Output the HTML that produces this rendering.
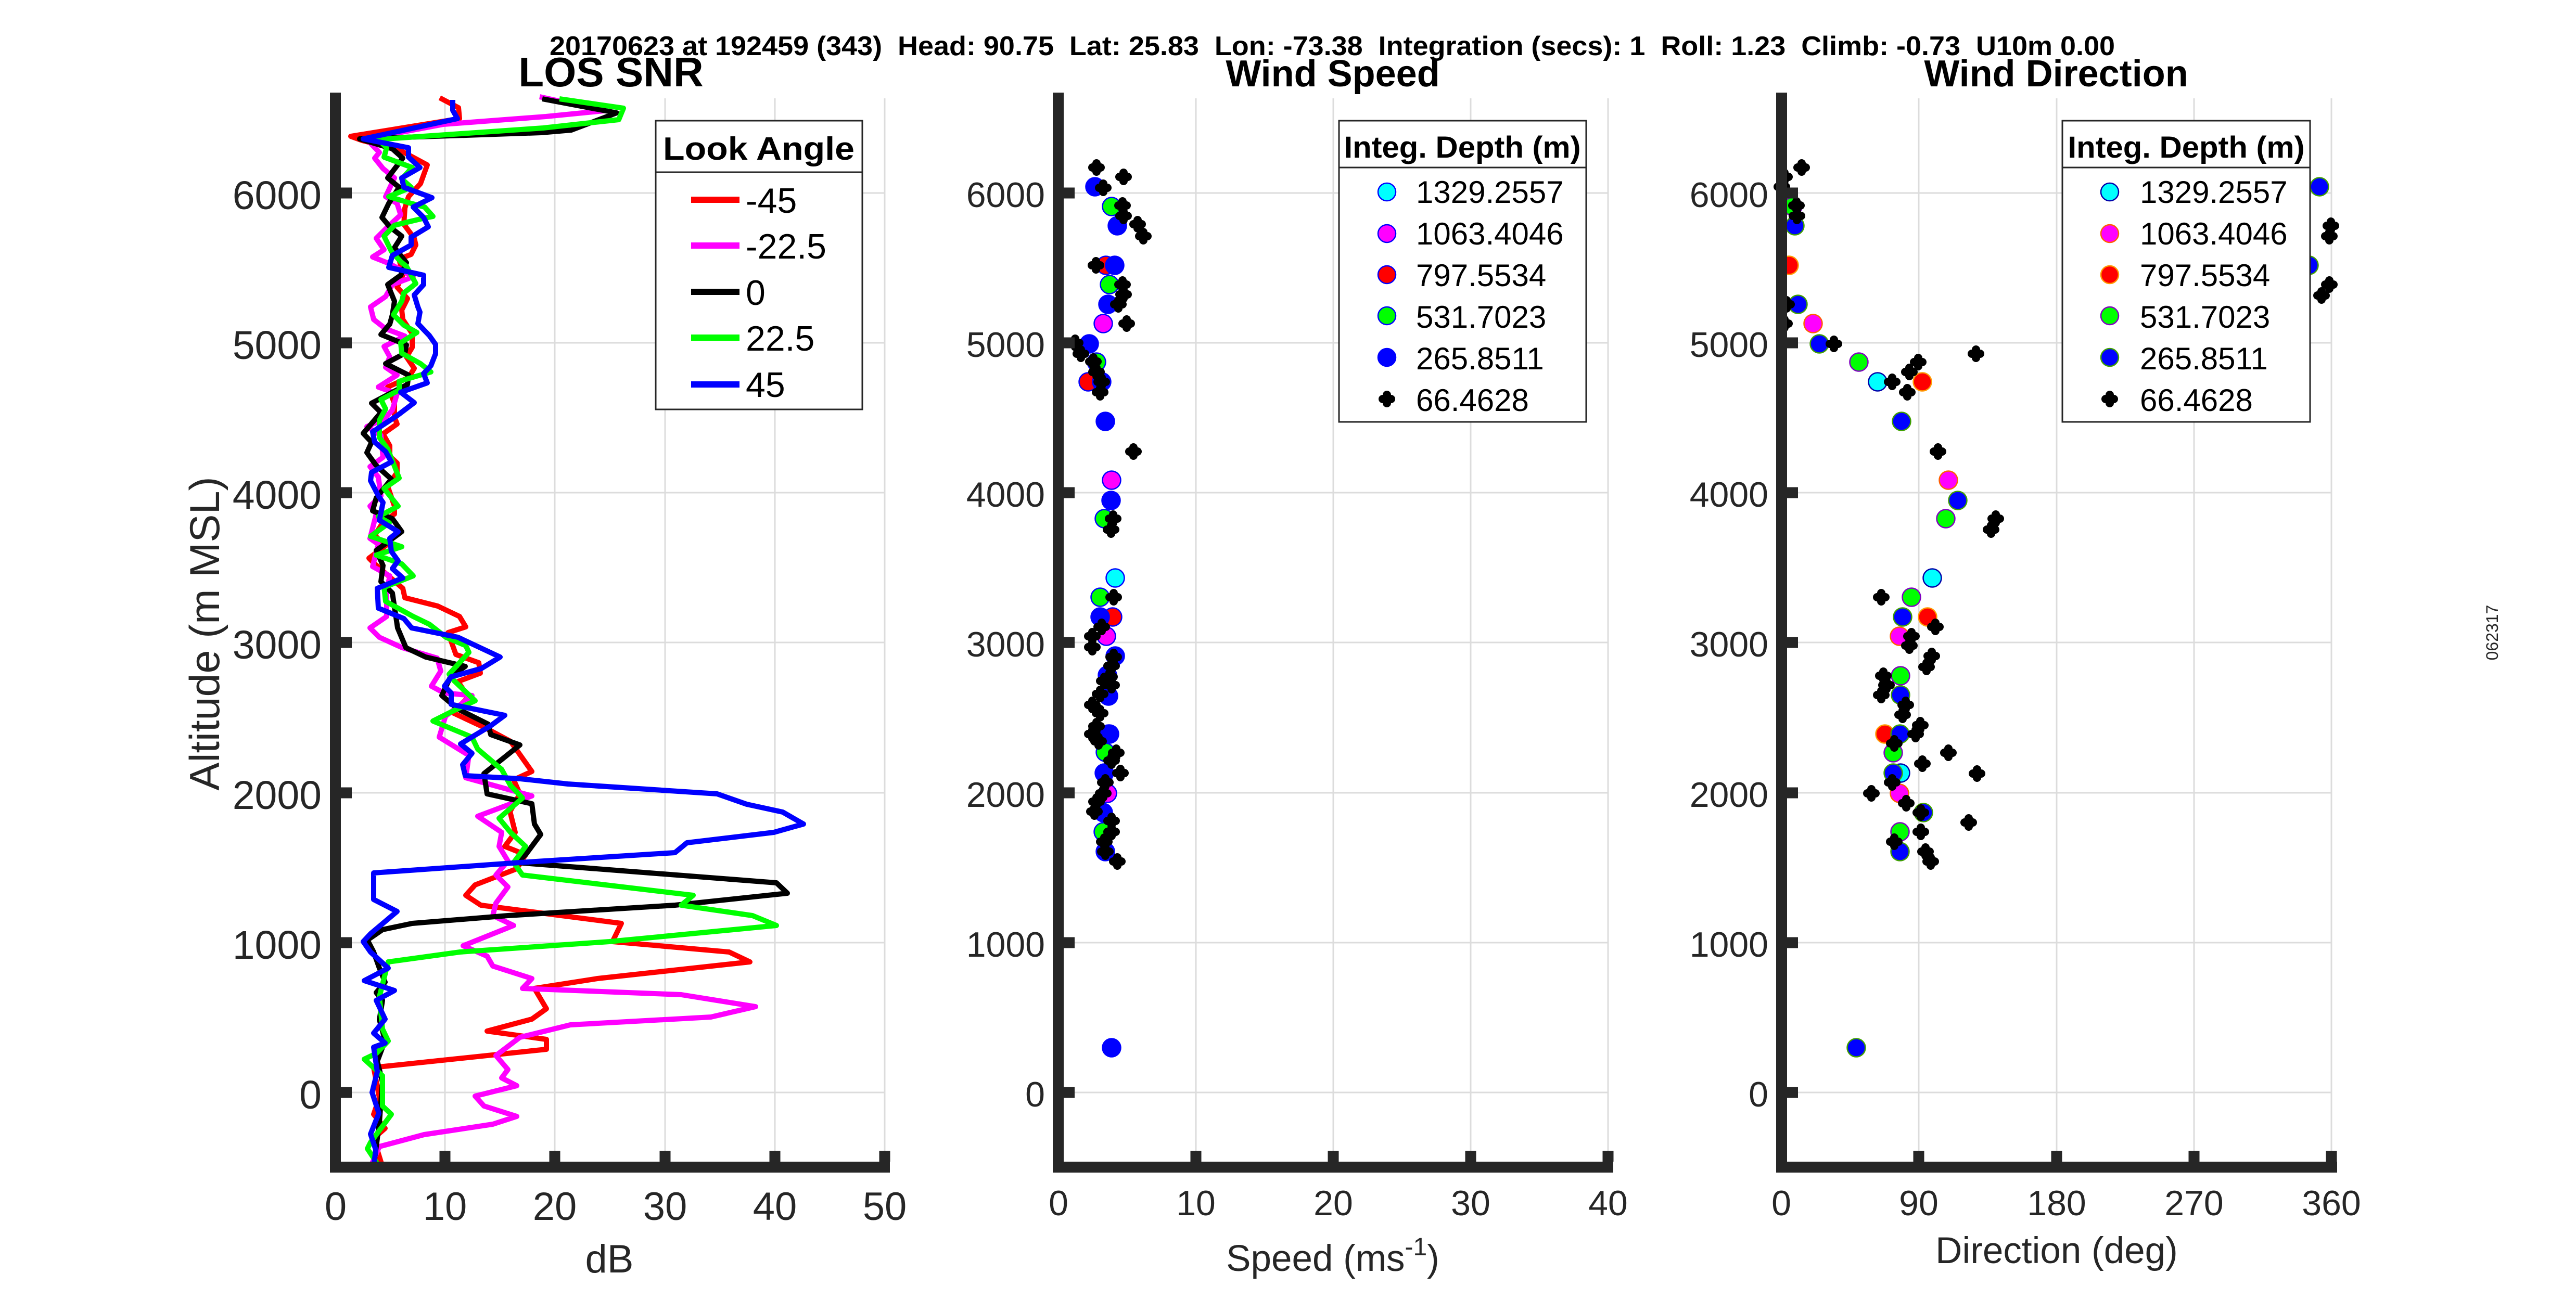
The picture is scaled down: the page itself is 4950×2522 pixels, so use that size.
<!DOCTYPE html>
<html><head><meta charset="utf-8"><style>
html,body{margin:0;padding:0;background:#fff;}
svg{display:block;}
text{font-family:"Liberation Sans",Arial,sans-serif;}
</style></head><body>
<svg xmlns="http://www.w3.org/2000/svg" width="4950" height="2522" viewBox="0 0 4950 2522">
<defs>
<path id="pl" d="M-8,0H8M0,-8V8" stroke="#000" stroke-width="16" stroke-linecap="round" fill="none"/>
</defs>
<rect width="4950" height="2522" fill="#fff"/>

<!-- ================= GRIDS ================= -->
<g stroke="#dcdcdc" stroke-width="3" fill="none">
<path d="M855,189V2233M1066,189V2233M1278,189V2233M1489,189V2233M1700,189V2233"/>
<path d="M655,371H1700M655,659H1700M655,947H1700M655,1235H1700M655,1524H1700M655,1812H1700M655,2100H1700"/>
<path d="M2298,189V2233M2562,189V2233M2826,189V2233M3090,189V2233"/>
<path d="M2044,371H3090M2044,659H3090M2044,947H3090M2044,1235H3090M2044,1524H3090M2044,1812H3090M2044,2100H3090"/>
<path d="M3687,189V2233M3952,189V2233M4216,189V2233M4480,189V2233"/>
<path d="M3434,371H4480M3434,659H4480M3434,947H4480M3434,1235H4480M3434,1524H4480M3434,1812H4480M3434,2100H4480"/>
</g>

<!-- ================= SNR LINES ================= -->
<g fill="none" stroke-width="10" stroke-linejoin="round" stroke-linecap="butt">
<polyline stroke="#ff0000" points="845,188 881,207 883,228 674,262 696,270 767,288 821,317 808,353 785,378 778,400 776,431 796,458 799,471 790,489 767,498 774,529 763,552 783,574 772,596 774,614 792,641 792,668 781,686 796,708 785,726 745,744 758,775 758,802 763,815 736,834 749,857 749,877 763,890 763,908 745,935 758,973 758,988 736,1004 720,1029 741,1049 709,1073 718,1082 743,1104 774,1131 778,1149 841,1165 883,1185 895,1205 861,1216 876,1258 920,1274 923,1294 880,1310 900,1340 870,1370 936,1401 981,1425 1022,1483 987,1499 999,1526 980,1560 990,1600 970,1627 1010,1643 993,1670 913,1701 895,1721 924,1740 1194,1775 1177,1810 1401,1830 1441,1849 1148,1881 1027,1900 1050,1939 1022,1959 936,1982 1050,1998 1050,2017 718,2052 729,2110 718,2142 740,2169 718,2188 735,2243"/>
<polyline stroke="#ff00ff" points="1037,186 1160,213 1049,224 852,239 767,255 703,266 729,293 720,304 736,324 758,342 741,378 763,391 770,413 745,436 723,458 738,480 716,494 749,507 794,532 754,547 741,570 712,590 718,614 741,632 778,646 738,666 749,686 741,706 763,721 727,744 763,757 754,788 738,806 705,820 732,837 736,879 711,897 727,917 732,953 711,973 723,988 711,1035 727,1046 716,1089 749,1107 743,1136 743,1185 711,1207 729,1225 773,1245 840,1265 847,1290 829,1319 853,1332 907,1337 856,1377 844,1417 901,1452 895,1495 1022,1530 918,1569 964,1600 959,1627 976,1655 953,1682 976,1705 953,1736 947,1760 987,1779 890,1818 936,1838 947,1857 1022,1881 1004,1900 1309,1912 1452,1935 1366,1955 1096,1970 999,1994 953,2029 976,2056 964,2072 993,2087 913,2107 930,2126 993,2146 947,2161 815,2181 729,2204 712,2243"/>
<polyline stroke="#000000" points="1042,190 1185,217 1098,250 1040,255 691,267 754,286 774,304 745,342 767,360 747,391 734,418 749,436 772,454 758,476 781,505 770,529 745,547 758,579 754,605 749,623 732,643 781,663 778,679 741,699 785,721 783,739 714,775 732,793 698,833 714,850 705,870 723,895 752,921 723,957 716,982 754,997 772,1022 745,1042 723,1058 736,1087 732,1118 754,1140 764,1207 780,1245 818,1263 894,1281 866,1300 849,1337 880,1363 938,1392 943,1412 999,1432 959,1464 930,1487 936,1526 1022,1545 1027,1584 1039,1604 1010,1643 993,1658 1492,1697 1513,1717 1297,1740 976,1760 792,1775 735,1787 706,1807 718,1830 729,1861 740,1888 723,1908 735,1923 729,1960 740,2000 725,2040 735,2080 729,2157 718,2243"/>
<polyline stroke="#00ff00" points="1075,190 1198,208 1189,230 1044,246 727,268 743,284 738,302 792,322 772,344 790,360 747,378 790,391 816,398 832,416 812,420 758,433 738,454 752,483 770,503 781,512 799,545 776,563 772,579 756,605 776,625 801,639 770,659 772,679 808,699 828,715 767,733 767,750 732,768 741,786 729,808 729,841 745,863 767,919 738,939 765,973 727,993 748,1005 712,1031 772,1051 723,1067 772,1084 794,1107 738,1129 741,1156 794,1185 825,1200 857,1225 895,1241 901,1254 863,1296 872,1308 913,1347 872,1366 832,1386 907,1417 918,1440 964,1479 981,1510 1004,1534 959,1573 981,1600 1010,1627 987,1658 1004,1682 1332,1721 1309,1740 1446,1760 1492,1779 1171,1810 884,1830 746,1849 729,1916 735,1978 746,2001 723,2025 700,2036 735,2068 735,2126 752,2142 712,2196 706,2208 729,2243"/>
<polyline stroke="#0000ff" points="870,192 870,212 879,228 698,267 785,284 785,302 807,322 772,342 776,360 830,380 794,398 814,418 823,436 790,456 790,471 754,491 747,514 814,529 814,547 796,567 803,590 807,600 803,622 825,645 837,662 837,680 828,703 814,718 821,736 770,754 796,774 763,799 716,830 720,850 741,868 752,888 714,908 712,924 727,953 736,966 729,1000 747,1011 765,1022 749,1035 752,1060 765,1078 754,1093 774,1111 725,1131 727,1169 776,1189 791,1207 880,1225 961,1263 925,1285 867,1301 854,1319 867,1332 867,1354 970,1375 943,1395 885,1430 907,1448 889,1470 894,1491 1000,1497 1091,1507 1378,1526 1435,1546 1504,1561 1544,1584 1487,1600 1320,1620 1297,1639 999,1658 718,1678 718,1729 763,1752 712,1795 698,1810 712,1830 746,1861 700,1885 758,1904 723,1923 740,1959 718,1986 740,2005 718,2013 725,2060 715,2100 728,2140 712,2180 722,2210 718,2243"/>
</g>

<!-- ================= MIDDLE SCATTER ================= -->
<g stroke-width="2.5">
<g fill="#00ffff" stroke="#0000ff"><circle cx="2143" cy="1111" r="17.5"/></g>
<g fill="#ff00ff" stroke="#0000ff"><circle cx="2120" cy="622" r="17.5"/><circle cx="2136" cy="923" r="17.5"/><circle cx="2126" cy="1223" r="17.5"/><circle cx="2128" cy="1525" r="17.5"/></g>
<g fill="#ff0000" stroke="#0000ff"><circle cx="2125" cy="510" r="17.5"/><circle cx="2091" cy="734" r="17.5"/><circle cx="2138" cy="1186" r="17.5"/><circle cx="2132" cy="1411" r="17.5"/></g>
<g fill="#00ff00" stroke="#0000ff"><circle cx="2136" cy="397" r="17.5"/><circle cx="2132" cy="547" r="17.5"/><circle cx="2107" cy="696" r="17.5"/><circle cx="2122" cy="997" r="17.5"/><circle cx="2114" cy="1148" r="17.5"/><circle cx="2124" cy="1446" r="17.5"/><circle cx="2120" cy="1599" r="17.5"/></g>
<g fill="#0000ff" stroke="#0000ff"><circle cx="2104" cy="359" r="17.5"/><circle cx="2147" cy="434" r="17.5"/><circle cx="2142" cy="510" r="17.5"/><circle cx="2129" cy="585" r="17.5"/><circle cx="2093" cy="661" r="17.5"/><circle cx="2117" cy="734" r="17.5"/><circle cx="2124" cy="810" r="17.5"/><circle cx="2135" cy="962" r="17.5"/><circle cx="2114" cy="1186" r="17.5"/><circle cx="2143" cy="1261" r="17.5"/><circle cx="2128" cy="1298" r="17.5"/><circle cx="2130" cy="1338" r="17.5"/><circle cx="2130" cy="1411" r="17.5"/><circle cx="2122" cy="1486" r="17.5"/><circle cx="2120" cy="1562" r="17.5"/><circle cx="2124" cy="1637" r="17.5"/><circle cx="2136" cy="2014" r="17.5"/></g>
</g>
<g>
<use href="#pl" x="2107" y="322"/><use href="#pl" x="2159" y="340"/><use href="#pl" x="2120" y="361"/><use href="#pl" x="2157" y="395"/><use href="#pl" x="2159" y="415"/><use href="#pl" x="2186" y="431"/><use href="#pl" x="2197" y="454"/><use href="#pl" x="2106" y="510"/><use href="#pl" x="2157" y="547"/><use href="#pl" x="2159" y="566"/><use href="#pl" x="2149" y="585"/><use href="#pl" x="2165" y="622"/><use href="#pl" x="2066" y="659"/><use href="#pl" x="2077" y="680"/><use href="#pl" x="2101" y="695"/><use href="#pl" x="2107" y="715"/><use href="#pl" x="2117" y="734"/><use href="#pl" x="2114" y="754"/><use href="#pl" x="2178" y="868"/><use href="#pl" x="2139" y="997"/><use href="#pl" x="2135" y="1018"/><use href="#pl" x="2140" y="1148"/><use href="#pl" x="2117" y="1205"/><use href="#pl" x="2099" y="1223"/><use href="#pl" x="2099" y="1244"/><use href="#pl" x="2140" y="1263"/><use href="#pl" x="2136" y="1280"/><use href="#pl" x="2132" y="1301"/><use href="#pl" x="2122" y="1309"/><use href="#pl" x="2136" y="1317"/><use href="#pl" x="2114" y="1334"/><use href="#pl" x="2099" y="1355"/><use href="#pl" x="2114" y="1371"/><use href="#pl" x="2107" y="1396"/><use href="#pl" x="2099" y="1411"/><use href="#pl" x="2111" y="1425"/><use href="#pl" x="2145" y="1447"/><use href="#pl" x="2136" y="1462"/><use href="#pl" x="2153" y="1486"/><use href="#pl" x="2124" y="1504"/><use href="#pl" x="2120" y="1525"/><use href="#pl" x="2107" y="1541"/><use href="#pl" x="2103" y="1560"/><use href="#pl" x="2136" y="1578"/><use href="#pl" x="2136" y="1599"/><use href="#pl" x="2122" y="1618"/><use href="#pl" x="2124" y="1637"/><use href="#pl" x="2147" y="1656"/>
</g>

<!-- ================= RIGHT SCATTER ================= -->
<g stroke-width="2.5">
<g fill="#00ffff" stroke="#0000aa"><circle cx="3608" cy="734" r="17.5"/><circle cx="3713" cy="1111" r="17.5"/><circle cx="3652" cy="1486" r="17.5"/></g>
<g fill="#ff00ff" stroke="#ff6000"><circle cx="3484" cy="622" r="17.5"/><circle cx="3744" cy="923" r="17.5"/><circle cx="3650" cy="1223" r="17.5"/><circle cx="3650" cy="1525" r="17.5"/></g>
<g fill="#ff0000" stroke="#ff9900"><circle cx="3438" cy="510" r="17.5"/><circle cx="3694" cy="734" r="17.5"/><circle cx="3704" cy="1186" r="17.5"/><circle cx="3622" cy="1411" r="17.5"/></g>
<g fill="#00ff00" stroke="#8000c0"><circle cx="3445" cy="397" r="17.5"/><circle cx="3572" cy="696" r="17.5"/><circle cx="3739" cy="997" r="17.5"/><circle cx="3673" cy="1148" r="17.5"/><circle cx="3652" cy="1299" r="17.5"/><circle cx="3638" cy="1447" r="17.5"/><circle cx="3651" cy="1599" r="17.5"/></g>
<g fill="#0000ff" stroke="#40a000"><circle cx="3449" cy="434" r="17.5"/><circle cx="3455" cy="585" r="17.5"/><circle cx="3496" cy="661" r="17.5"/><circle cx="3654" cy="810" r="17.5"/><circle cx="3762" cy="962" r="17.5"/><circle cx="3656" cy="1186" r="17.5"/><circle cx="4457" cy="359" r="17.5"/><circle cx="4437" cy="510" r="17.5"/><circle cx="3652" cy="1336" r="17.5"/><circle cx="3651" cy="1411" r="17.5"/><circle cx="3638" cy="1486" r="17.5"/><circle cx="3696" cy="1562" r="17.5"/><circle cx="3651" cy="1637" r="17.5"/><circle cx="3567" cy="2014" r="17.5"/></g>
</g>
<g>
<use href="#pl" x="3462" y="322"/><use href="#pl" x="3429" y="340"/><use href="#pl" x="3424" y="359"/><use href="#pl" x="3452" y="395"/><use href="#pl" x="3453" y="415"/><use href="#pl" x="3433" y="585"/><use href="#pl" x="3429" y="622"/><use href="#pl" x="3524" y="661"/><use href="#pl" x="3686" y="696"/><use href="#pl" x="3669" y="715"/><use href="#pl" x="3636" y="734"/><use href="#pl" x="3665" y="754"/><use href="#pl" x="3797" y="680"/><use href="#pl" x="3724" y="868"/><use href="#pl" x="3835" y="997"/><use href="#pl" x="3826" y="1018"/><use href="#pl" x="3615" y="1148"/><use href="#pl" x="3719" y="1205"/><use href="#pl" x="3673" y="1223"/><use href="#pl" x="3669" y="1241"/><use href="#pl" x="3712" y="1261"/><use href="#pl" x="3702" y="1282"/><use href="#pl" x="3619" y="1299"/><use href="#pl" x="3625" y="1317"/><use href="#pl" x="3615" y="1336"/><use href="#pl" x="3662" y="1355"/><use href="#pl" x="3656" y="1374"/><use href="#pl" x="3690" y="1394"/><use href="#pl" x="3681" y="1411"/><use href="#pl" x="3640" y="1429"/><use href="#pl" x="3744" y="1447"/><use href="#pl" x="3694" y="1468"/><use href="#pl" x="3799" y="1487"/><use href="#pl" x="3636" y="1504"/><use href="#pl" x="3596" y="1525"/><use href="#pl" x="3663" y="1544"/><use href="#pl" x="3691" y="1562"/><use href="#pl" x="3783" y="1581"/><use href="#pl" x="3691" y="1599"/><use href="#pl" x="3640" y="1618"/><use href="#pl" x="3700" y="1637"/><use href="#pl" x="3710" y="1656"/><use href="#pl" x="4479" y="434"/><use href="#pl" x="4476" y="454"/><use href="#pl" x="4476" y="547"/><use href="#pl" x="4461" y="568"/>
</g>

<!-- ================= AXES ================= -->
<g fill="#262626">
<rect x="634" y="178" width="21" height="2076"/>
<rect x="634" y="2233" width="1076" height="21"/>
<rect x="655" y="360.5" width="21" height="21"/><rect x="655" y="648.5" width="21" height="21"/><rect x="655" y="936.5" width="21" height="21"/><rect x="655" y="1224.5" width="21" height="21"/><rect x="655" y="1513.5" width="21" height="21"/><rect x="655" y="1801.5" width="21" height="21"/><rect x="655" y="2089.5" width="21" height="21"/>
<rect x="844.5" y="2212" width="21" height="21"/><rect x="1055.5" y="2212" width="21" height="21"/><rect x="1267.5" y="2212" width="21" height="21"/><rect x="1478.5" y="2212" width="21" height="21"/><rect x="1689.5" y="2212" width="21" height="21"/>
<rect x="2023" y="178" width="21" height="2076"/>
<rect x="2023" y="2233" width="1077" height="21"/>
<rect x="2044" y="360.5" width="21" height="21"/><rect x="2044" y="648.5" width="21" height="21"/><rect x="2044" y="936.5" width="21" height="21"/><rect x="2044" y="1224.5" width="21" height="21"/><rect x="2044" y="1513.5" width="21" height="21"/><rect x="2044" y="1801.5" width="21" height="21"/><rect x="2044" y="2089.5" width="21" height="21"/>
<rect x="2287.5" y="2212" width="21" height="21"/><rect x="2551.5" y="2212" width="21" height="21"/><rect x="2815.5" y="2212" width="21" height="21"/><rect x="3079.5" y="2212" width="21" height="21"/>
<rect x="3413" y="178" width="21" height="2076"/>
<rect x="3413" y="2233" width="1078" height="21"/>
<rect x="3434" y="360.5" width="21" height="21"/><rect x="3434" y="648.5" width="21" height="21"/><rect x="3434" y="936.5" width="21" height="21"/><rect x="3434" y="1224.5" width="21" height="21"/><rect x="3434" y="1513.5" width="21" height="21"/><rect x="3434" y="1801.5" width="21" height="21"/><rect x="3434" y="2089.5" width="21" height="21"/>
<rect x="3676.5" y="2212" width="21" height="21"/><rect x="3941.5" y="2212" width="21" height="21"/><rect x="4205.5" y="2212" width="21" height="21"/><rect x="4469.5" y="2212" width="21" height="21"/>
</g>

<!-- ================= TICK LABELS ================= -->
<g fill="#262626" font-size="77" text-anchor="end">
<text x="618" y="402">6000</text><text x="618" y="690">5000</text><text x="618" y="978">4000</text><text x="618" y="1266">3000</text><text x="618" y="1555">2000</text><text x="618" y="1843">1000</text><text x="618" y="2131">0</text>
</g>
<g fill="#262626" font-size="76" text-anchor="middle">
<text x="645" y="2345">0</text><text x="855" y="2345">10</text><text x="1066" y="2345">20</text><text x="1278" y="2345">30</text><text x="1489" y="2345">40</text><text x="1700" y="2345">50</text>
</g>
<g fill="#262626" font-size="68" text-anchor="end">
<text x="2008" y="398">6000</text><text x="2008" y="686">5000</text><text x="2008" y="974">4000</text><text x="2008" y="1262">3000</text><text x="2008" y="1551">2000</text><text x="2008" y="1839">1000</text><text x="2008" y="2127">0</text>
<text x="3398" y="398">6000</text><text x="3398" y="686">5000</text><text x="3398" y="974">4000</text><text x="3398" y="1262">3000</text><text x="3398" y="1551">2000</text><text x="3398" y="1839">1000</text><text x="3398" y="2127">0</text>
</g>
<g fill="#262626" font-size="68" text-anchor="middle">
<text x="2034" y="2336">0</text><text x="2298" y="2336">10</text><text x="2562" y="2336">20</text><text x="2826" y="2336">30</text><text x="3090" y="2336">40</text>
<text x="3423" y="2336">0</text><text x="3687" y="2336">90</text><text x="3952" y="2336">180</text><text x="4216" y="2336">270</text><text x="4480" y="2336">360</text>
</g>

<!-- ================= AXIS LABELS ================= -->
<g fill="#262626" text-anchor="middle">
<text x="1171" y="2446" font-size="76">dB</text>
<text x="2561" y="2443" font-size="71">Speed (ms<tspan font-size="48" dy="-30">-1</tspan><tspan dy="30">)</tspan></text>
<text x="3952" y="2428" font-size="71">Direction (deg)</text>
<text transform="translate(421,1218) rotate(-90)" font-size="81">Altitude (m MSL)</text>
<text transform="translate(4800,1216) rotate(-90)" font-size="32">062317</text>
</g>

<!-- ================= TITLES ================= -->
<g fill="#000" font-weight="bold" text-anchor="middle">
<text x="1174" y="166" font-size="80">LOS SNR</text>
<text x="2561" y="166" font-size="72">Wind Speed</text>
<text x="3951" y="166" font-size="72">Wind Direction</text>
</g>
<text x="1056" y="106" font-size="52" font-weight="bold" fill="#000" style="white-space:pre" textLength="3008" lengthAdjust="spacingAndGlyphs">20170623 at 192459 (343)  Head: 90.75  Lat: 25.83  Lon: -73.38  Integration (secs): 1  Roll: 1.23  Climb: -0.73  U10m 0.00</text>

<!-- ================= LEGEND LEFT ================= -->
<rect x="1260" y="232" width="397" height="555" fill="#fff" stroke="#262626" stroke-width="3"/>
<line x1="1260" y1="331" x2="1657" y2="331" stroke="#262626" stroke-width="3"/>
<text x="1458" y="307" font-size="62" font-weight="bold" text-anchor="middle" textLength="368" lengthAdjust="spacingAndGlyphs">Look Angle</text>
<g stroke-width="12">
<line x1="1328" y1="384" x2="1421" y2="384" stroke="#ff0000"/>
<line x1="1328" y1="472" x2="1421" y2="472" stroke="#ff00ff"/>
<line x1="1328" y1="561" x2="1421" y2="561" stroke="#000000"/>
<line x1="1328" y1="649" x2="1421" y2="649" stroke="#00ff00"/>
<line x1="1328" y1="739" x2="1421" y2="739" stroke="#0000ff"/>
</g>
<g font-size="68" fill="#000">
<text x="1433" y="409">-45</text>
<text x="1433" y="497">-22.5</text>
<text x="1433" y="586">0</text>
<text x="1433" y="674">22.5</text>
<text x="1433" y="763">45</text>
</g>

<!-- ================= LEGEND MIDDLE ================= -->
<rect x="2573" y="232" width="475" height="579" fill="#fff" stroke="#262626" stroke-width="3"/>
<line x1="2573" y1="322" x2="3048" y2="322" stroke="#262626" stroke-width="3"/>
<text x="2810" y="303" font-size="58" font-weight="bold" text-anchor="middle" textLength="455" lengthAdjust="spacingAndGlyphs">Integ. Depth (m)</text>
<g stroke-width="2.5">
<circle cx="2665" cy="369" r="17" fill="#00ffff" stroke="#0000ff"/>
<circle cx="2665" cy="449" r="17" fill="#ff00ff" stroke="#0000ff"/>
<circle cx="2665" cy="528" r="17" fill="#ff0000" stroke="#0000ff"/>
<circle cx="2665" cy="607" r="17" fill="#00ff00" stroke="#0000ff"/>
<circle cx="2665" cy="687" r="17" fill="#0000ff" stroke="#0000ff"/>
</g>
<use href="#pl" x="2665" y="767"/>
<g font-size="60" fill="#000">
<text x="2721" y="390">1329.2557</text>
<text x="2721" y="470">1063.4046</text>
<text x="2721" y="550">797.5534</text>
<text x="2721" y="630">531.7023</text>
<text x="2721" y="710">265.8511</text>
<text x="2721" y="790">66.4628</text>
</g>

<!-- ================= LEGEND RIGHT ================= -->
<rect x="3963" y="232" width="476" height="579" fill="#fff" stroke="#262626" stroke-width="3"/>
<line x1="3963" y1="322" x2="4439" y2="322" stroke="#262626" stroke-width="3"/>
<text x="4201" y="303" font-size="58" font-weight="bold" text-anchor="middle" textLength="455" lengthAdjust="spacingAndGlyphs">Integ. Depth (m)</text>
<g stroke-width="2.5">
<circle cx="4054" cy="369" r="17" fill="#00ffff" stroke="#0000aa"/>
<circle cx="4054" cy="449" r="17" fill="#ff00ff" stroke="#ff6000"/>
<circle cx="4054" cy="528" r="17" fill="#ff0000" stroke="#ff9900"/>
<circle cx="4054" cy="607" r="17" fill="#00ff00" stroke="#8000c0"/>
<circle cx="4054" cy="687" r="17" fill="#0000ff" stroke="#40a000"/>
</g>
<use href="#pl" x="4054" y="767"/>
<g font-size="60" fill="#000">
<text x="4112" y="390">1329.2557</text>
<text x="4112" y="470">1063.4046</text>
<text x="4112" y="550">797.5534</text>
<text x="4112" y="630">531.7023</text>
<text x="4112" y="710">265.8511</text>
<text x="4112" y="790">66.4628</text>
</g>
</svg>
</body></html>
